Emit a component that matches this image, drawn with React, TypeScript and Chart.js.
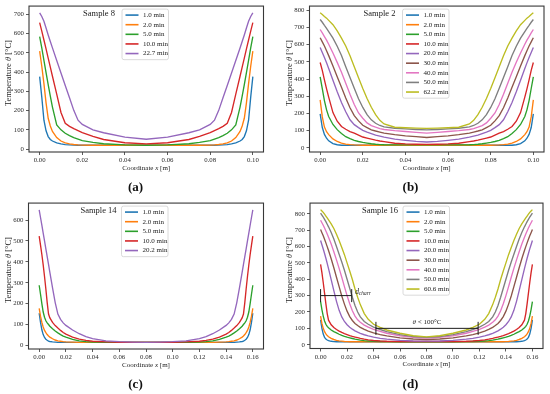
import React, { useEffect, useRef } from 'react';
import { Chart, registerables } from 'chart.js';

Chart.register(...registerables);

const FONT = "'Liberation Serif', 'Times New Roman', serif";
const COLORS = ['#1f77b4', '#ff7f0e', '#2ca02c', '#d62728', '#9467bd', '#8c564b', '#e377c2', '#7f7f7f', '#bcbd22'];

// ---------------- Panel (a): Sample 8 ----------------
const xA = [0,0.001,0.002,0.003,0.004,0.005,0.006,0.008,0.01,0.012,0.014,0.016,0.018,0.02,0.025,0.03,0.04,0.05,0.06,0.07,0.075,0.08,0.082,0.084,0.086,0.088,0.09,0.092,0.094,0.095,0.096,0.097,0.098,0.099,0.1];
const labelsA = ['1.0 min', '2.0 min', '5.0 min', '10.0 min', '22.7 min'];
const a1 = [376,270,150,95,65,50,42,32,27,23,22,21, 20,20,20,20,20,20,20,20,20,20,20, 21,22,23,27,32,42,50,65,95,150,270,376];
const a2 = [508,430,340,240,160,120,92,60,42,32,27,24,22,21, 20,20,20,20,20,20,20, 21,22,24,27,32,42,60,92,120,160,240,340,430,508];
const a5 = [584,525,460,397,335,275,218,125,100,82,70,60,52,44,35,28,22, 20, 22,28,35,44,52,60,70,82,100,125,218,275,335,397,460,525,584];
const a10 = [656,612,566,520,472,425,378,285,190,134,118,106,96,86,66,50,33, 27, 33,50,66,86,96,106,118,134,190,285,378,425,472,520,566,612,656];
const a22 = [707,688,663,628,592,558,525,460,395,330,266,201,150,128,100,85,62, 51, 62,85,100,128,150,201,266,330,395,460,525,558,592,628,663,688,707];
const xTicksA = [0, 0.02, 0.04, 0.06, 0.08, 0.1];
const yTicksA = [0, 100, 200, 300, 400, 500, 600, 700];

// ---------------- Panel (b): Sample 2 ----------------
const xB = [0,0.001,0.002,0.003,0.004,0.006,0.008,0.01,0.012,0.014,0.016,0.018,0.02,0.022,0.024,0.026,0.028,0.03,0.035,0.04,0.045,0.05,0.055,0.06,0.065,0.07,0.072,0.074,0.076,0.078,0.08,0.082,0.084,0.086,0.088,0.09,0.092,0.094,0.096,0.097,0.098,0.099,0.1];
const labelsB = ['1.0 min', '2.0 min', '5.0 min', '10.0 min', '20.0 min', '30.0 min', '40.0 min', '50.0 min', '62.2 min'];
const b1 = [198,118,78,56,41,25,18, 15,15,15,15,15,15,15,15,15,15,15,15,15,15,15,15,15,15,15,15,15,15,15,15,15,15,15,15,15, 18,25,41,56,78,118,198];
const b2 = [279,180,121,94,77,52,37,28,22,19,17,16, 15,15,15,15,15,15,15,15,15,15,15,15,15,15,15,15,15,15,15, 16,17,19,22,28,37,52,77,94,121,180,279];
const b5 = [413,345,275,221,182,136,106,84,65,54,44,37,32,28,24,21,19,18,17,17,17, 17, 17,17,17,18,19,21,24,28,32,37,44,54,65,84,106,136,182,221,275,345,413];
const b10 = [496,450,395,343,295,205,155,124,108,95,85,74,63,57,51,45,40,36,27,23,21, 20, 21,23,27,36,40,45,51,57,63,74,85,95,108,124,155,205,295,343,395,450,496];
const b20 = [583,554,525,494,461,393,326,264,210,163,135,118,102,92,83,74,68,62,51,44,38, 34, 38,44,51,62,68,74,83,92,102,118,135,163,210,264,326,393,461,494,525,554,583];
const b30 = [640,616,592,564,536,476,413,352,290,233,187,157,131,118,105,98,92,86,77,70,65, 60, 65,70,77,86,92,98,105,118,131,157,187,233,290,352,413,476,536,564,592,616,640];
const b40 = [688,668,647,626,602,551,497,440,375,311,252,203,172,145,129,120,112,107,100,95,90, 86, 90,95,100,107,112,120,129,145,172,203,252,311,375,440,497,551,602,626,647,668,688];
const b50 = [746,730,712,695,676,638,591,537,471,409,346,285,235,193,163,143,130,122,114,110,107, 105, 107,110,114,122,130,143,163,193,235,285,346,409,471,537,591,638,676,695,712,730,746];
const b62 = [785,775,764,754,741,716,680,638,592,535,472,408,345,287,236,193,160,139,120,117,115, 113, 115,117,120,139,160,193,236,287,345,408,472,535,592,638,680,716,741,754,764,775,785];
const xTicksB = [0, 0.02, 0.04, 0.06, 0.08, 0.1];
const yTicksB = [0, 100, 200, 300, 400, 500, 600, 700, 800];

// ---------------- Panel (c): Sample 14 ----------------
const xC = [0,0.001,0.002,0.003,0.004,0.005,0.006,0.007,0.008,0.01,0.012,0.014,0.016,0.018,0.02,0.025,0.03,0.035,0.04,0.05,0.06,0.07,0.08,0.09,0.1,0.11,0.12,0.125,0.13,0.135,0.14,0.142,0.144,0.146,0.148,0.15,0.152,0.153,0.154,0.155,0.156,0.157,0.158,0.159,0.16];
const labelsC = ['1.0 min', '2.0 min', '5.0 min', '10.0 min', '20.2 min'];
const c1 = [154,110,75,52,38,30,25,21,19,17,16, 15,15,15,15,15,15,15,15,15,15,15,15,15,15,15,15,15,15,15,15,15,15,15, 16,17,19,21,25,30,38,52,75,110,154];
const c2 = [177,140,110,88,72,61,52,45,40,32,26,22,20,18,17,16, 15,15,15,15,15,15,15,15,15,15,15,15,15, 16,17,18,20,22,26,32,40,45,52,61,72,88,110,140,177];
const c5 = [288,245,200,160,135,118,108,100,92,80,69,60,52,45,40,29,22,18,16,15,15,15, 15, 15,15,15,16,18,22,29,40,45,52,60,69,80,92,100,108,118,135,160,200,245,288];
const c10 = [523,480,435,385,330,270,205,150,132,110,95,83,72,62,54,40,30,24,20,17,15,15, 15, 15,15,17,20,24,30,40,54,62,72,83,95,110,132,150,205,270,330,385,435,480,523];
const c20 = [649,612,575,537,500,462,425,388,350,275,205,150,125,108,96,74,56,42,33,22,18,16, 15, 16,18,22,33,42,56,74,96,108,125,150,205,275,350,388,425,462,500,537,575,612,649];
const xTicksC = [0, 0.02, 0.04, 0.06, 0.08, 0.1, 0.12, 0.14, 0.16];
const yTicksC = [0, 100, 200, 300, 400, 500, 600];

// ---------------- Panel (d): Sample 16 ----------------
const xD = [0,0.001,0.002,0.003,0.004,0.005,0.006,0.008,0.01,0.012,0.014,0.016,0.018,0.02,0.022,0.024,0.026,0.028,0.03,0.033,0.036,0.04,0.045,0.05,0.06,0.07,0.08,0.09,0.1,0.11,0.115,0.12,0.124,0.127,0.13,0.132,0.134,0.136,0.138,0.14,0.142,0.144,0.146,0.148,0.15,0.152,0.154,0.155,0.156,0.157,0.158,0.159,0.16];
const labelsD = ['1.0 min', '2.0 min', '5.0 min', '10.0 min', '20.0 min', '30.0 min', '40.0 min', '50.0 min', '60.6 min'];
const d1 = [152,100,65,45,35,29,25,21,19, 18,18,18,18,18,18,18,18,18,18,18,18,18,18,18,18,18,18,18,18,18,18,18,18,18,18,18,18,18,18,18,18,18,18,18, 19,21,25,29,35,45,65,100,152];
const d2 = [174,130,100,80,66,56,49,39,32,27,24,22,20,19, 18,18,18,18,18,18,18,18,18,18,18,18,18,18,18,18,18,18,18,18,18,18,18,18,18, 19,20,22,24,27,32,39,49,56,66,80,100,130,174];
const d5 = [263,215,175,145,125,112,104,90,80,72,64,57,51,46,42,38,34,31,28,25,23,21,20,19,18,18, 18, 18,18,19,20,21,23,25,28,31,34,38,42,46,51,57,64,72,80,90,104,112,125,145,175,215,263];
const d10 = [491,440,380,315,250,190,150,122,105,93,83,75,68,62,56,51,47,43,39,34,30,26,23,21,20,20, 20, 20,20,21,23,26,30,34,39,43,47,51,56,62,68,75,83,93,105,122,150,190,250,315,380,440,491];
const d20 = [636,611,585,557,528,497,465,398,330,265,210,170,142,122,107,95,85,77,70,61,54,46,39,34,27,23, 22, 23,27,34,39,46,54,61,70,77,85,95,107,122,142,170,210,265,330,398,465,497,528,557,585,611,636];
const d30 = [703,684,665,644,622,599,575,525,470,412,355,298,248,205,172,148,130,117,106,94,83,72,62,54,42,35, 32, 35,42,54,62,72,83,94,106,117,130,148,172,205,248,298,355,412,470,525,575,599,622,644,665,684,703];
const d40 = [760,745,730,713,695,676,657,615,568,518,466,412,355,300,250,207,175,152,137,120,107,94,81,70,55,45, 40, 45,55,70,81,94,107,120,137,152,175,207,250,300,355,412,466,518,568,615,657,676,695,713,730,745,760];
const d50 = [804,792,780,766,752,736,720,685,645,600,553,505,455,400,345,290,240,200,170,142,125,108,93,80,62,50, 45, 50,62,80,93,108,125,142,170,200,240,290,345,400,455,505,553,600,645,685,720,736,752,766,780,792,804];
const d60 = [825,817,808,797,786,774,762,738,710,675,636,594,550,500,450,398,340,290,245,190,155,125,106,90,70,55, 48, 55,70,90,106,125,155,190,245,290,340,398,450,500,550,594,636,675,710,738,762,774,786,797,808,817,825];
const xTicksD = [0, 0.02, 0.04, 0.06, 0.08, 0.1, 0.12, 0.14, 0.16];
const yTicksD = [0, 100, 200, 300, 400, 500, 600, 700, 800];
// annotations in panel (d)
const charX = [0, 0.0235];
const charY = 300;
const dryX = [0.0418, 0.119];
const dryY = 100;

type Frame = { left: number; top: number; right: number; bottom: number };
type PanelCfg = {
  letter: string; sample: string; x: number[]; series: number[][]; labels: string[];
  xTicks: number[]; yTicks: number[]; xRange: [number, number]; yRange: [number, number];
  frame: Frame; notes?: boolean;
};

const PANELS: PanelCfg[] = [
  { letter: '(a)', sample: 'Sample 8', x: xA, series: [a1, a2, a5, a10, a22], labels: labelsA,
    xTicks: xTicksA, yTicks: yTicksA, xRange: [-0.005, 0.105], yRange: [-15, 742],
    frame: { left: 29, top: 4, right: 263.5, bottom: 152 } },
  { letter: '(b)', sample: 'Sample 2', x: xB, series: [b1, b2, b5, b10, b20, b30, b40, b50, b62], labels: labelsB,
    xTicks: xTicksB, yTicks: yTicksB, xRange: [-0.005, 0.105], yRange: [-24, 824],
    frame: { left: 34.5, top: 5, right: 269, bottom: 152 } },
  { letter: '(c)', sample: 'Sample 14', x: xC, series: [c1, c2, c5, c10, c20], labels: labelsC,
    xTicks: xTicksC, yTicks: yTicksC, xRange: [-0.008, 0.168], yRange: [-17, 681],
    frame: { left: 28.5, top: 4, right: 263.5, bottom: 152 } },
  { letter: '(d)', sample: 'Sample 16', x: xD, series: [d1, d2, d5, d10, d20, d30, d40, d50, d60], labels: labelsD,
    xTicks: xTicksD, yTicks: yTicksD, xRange: [-0.008, 0.168], yRange: [-23, 865],
    frame: { left: 35, top: 5, right: 268, bottom: 151.5 }, notes: true },
];

type Part = { t: string; it?: boolean; b?: boolean; sub?: boolean };

function drawParts(ctx: CanvasRenderingContext2D, parts: Part[], x: number, y: number, size: number, align: 'center' | 'left') {
  const fonts = parts.map(p => `${p.it ? 'italic ' : ''}${p.b ? 'bold ' : ''}${p.sub ? size * 0.72 : size}px ${FONT}`);
  let total = 0;
  const widths = parts.map((p, i) => {
    ctx.font = fonts[i];
    const w = ctx.measureText(p.t).width;
    total += w;
    return w;
  });
  let cx = align === 'center' ? x - total / 2 : x;
  ctx.textAlign = 'left';
  ctx.textBaseline = 'middle';
  parts.forEach((p, i) => {
    ctx.font = fonts[i];
    ctx.fillText(p.t, cx, y + (p.sub ? size * 0.3 : 0));
    cx += widths[i];
  });
}

function Panel({ cfg, left, top }: { cfg: PanelCfg; left: number; top: number }) {
  const ref = useRef<HTMLCanvasElement>(null);
  useEffect(() => {
    const canvas = ref.current;
    if (!canvas) return;
    const W = 275, H = 197;
    const f = cfg.frame;
    const n = cfg.series.length;
    const overlay = {
      id: 'overlay',
      afterDraw(chart: any) {
        const ctx: CanvasRenderingContext2D = chart.ctx;
        const ca = chart.chartArea;
        ctx.save();
        // axes frame
        ctx.strokeStyle = '#383838';
        ctx.lineWidth = 1.1;
        ctx.strokeRect(ca.left, ca.top, ca.right - ca.left, ca.bottom - ca.top);
        ctx.fillStyle = '#222';
        // axis titles
        drawParts(ctx, [{ t: 'Coordinate ' }, { t: 'x', it: true }, { t: ' [m]' }], (ca.left + ca.right) / 2, ca.bottom + 16, 7, 'center');
        ctx.save();
        ctx.translate(ca.left - 20, ca.top + 67);
        ctx.rotate(-Math.PI / 2);
        drawParts(ctx, [{ t: 'Temperature ' }, { t: 'θ', it: true }, { t: ' [°C]' }], 0, 0, 8.5, 'center');
        ctx.restore();
        // sample label
        drawParts(ctx, [{ t: cfg.sample }], ca.left + 70, ca.top + 7.5, 8.5, 'center');
        // panel letter
        ctx.fillStyle = '#111';
        drawParts(ctx, [{ t: cfg.letter, b: true }], 135.5, 188, 13, 'center');
        // legend
        const bx = ca.left + 93, by = ca.top + 3, bw = 46.5, rowH = 9.62, bh = n * rowH + 2.5;
        ctx.beginPath();
        const r = 2;
        ctx.moveTo(bx + r, by);
        ctx.lineTo(bx + bw - r, by);
        ctx.quadraticCurveTo(bx + bw, by, bx + bw, by + r);
        ctx.lineTo(bx + bw, by + bh - r);
        ctx.quadraticCurveTo(bx + bw, by + bh, bx + bw - r, by + bh);
        ctx.lineTo(bx + r, by + bh);
        ctx.quadraticCurveTo(bx, by + bh, bx, by + bh - r);
        ctx.lineTo(bx, by + r);
        ctx.quadraticCurveTo(bx, by, bx + r, by);
        ctx.closePath();
        ctx.fillStyle = 'rgba(255,255,255,0.85)';
        ctx.fill();
        ctx.strokeStyle = '#d0d0d0';
        ctx.lineWidth = 0.8;
        ctx.stroke();
        cfg.labels.forEach((lab, i) => {
          const yy = by + 6 + i * rowH;
          ctx.strokeStyle = COLORS[i];
          ctx.lineWidth = 1.6;
          ctx.beginPath();
          ctx.moveTo(bx + 3.5, yy);
          ctx.lineTo(bx + 16.5, yy);
          ctx.stroke();
          ctx.fillStyle = '#222';
          drawParts(ctx, [{ t: lab }], bx + 21, yy, 7, 'left');
        });
        // annotations
        if (cfg.notes) {
          const sx = chart.scales.x, sy = chart.scales.y;
          ctx.strokeStyle = '#1a1a1a';
          ctx.lineWidth = 1;
          const bar = (xs: number[], yv: number) => {
            const x0 = sx.getPixelForValue(xs[0]);
            const x1 = sx.getPixelForValue(xs[1]);
            const yp = sy.getPixelForValue(yv);
            ctx.beginPath();
            ctx.moveTo(x0, yp); ctx.lineTo(x1, yp);
            ctx.moveTo(x0, yp - 6.5); ctx.lineTo(x0, yp + 6.5);
            ctx.moveTo(x1, yp - 6.5); ctx.lineTo(x1, yp + 6.5);
            ctx.stroke();
            return { x0, x1, yp };
          };
          const c = bar(charX, charY);
          ctx.fillStyle = '#222';
          drawParts(ctx, [{ t: 'd', it: true }, { t: 'charr', it: true, sub: true }], c.x1 + 3.5, c.yp - 4, 7.5, 'left');
          const d = bar(dryX, dryY);
          drawParts(ctx, [{ t: 'θ', it: true }, { t: ' < 100°C' }], (d.x0 + d.x1) / 2, d.yp - 6, 7, 'center');
        }
        ctx.restore();
      },
    };

    const tickFont = { family: FONT, size: 6.8 };
    const chart = new Chart(canvas, {
      type: 'line',
      data: {
        datasets: cfg.series.map((s, i) => ({
          label: cfg.labels[i],
          data: cfg.x.map((xv, j) => ({ x: xv, y: s[j] })),
          borderColor: COLORS[i],
          backgroundColor: COLORS[i],
          borderWidth: 1.35,
          pointRadius: 0,
          fill: false,
          tension: 0,
          order: n - i,
        })),
      },
      options: {
        animation: false,
        responsive: false,
        maintainAspectRatio: false,
        events: [],
        layout: { padding: { left: 0, top: f.top, right: W - f.right, bottom: 0 } },
        scales: {
          x: {
            type: 'linear',
            min: cfg.xRange[0],
            max: cfg.xRange[1],
            afterBuildTicks: (axis: any) => { axis.ticks = cfg.xTicks.map(v => ({ value: v })); },
            afterFit: (scale: any) => { scale.height = H - f.bottom; },
            ticks: {
              font: tickFont, color: '#2a2a2a', padding: 1.5, maxRotation: 0, autoSkip: false,
              callback: (v: any) => Number(v).toFixed(2),
            },
            grid: { display: true, drawOnChartArea: false, drawTicks: true, tickLength: 3, color: '#333', lineWidth: 0.8 },
            border: { display: false },
          },
          y: {
            type: 'linear',
            min: cfg.yRange[0],
            max: cfg.yRange[1],
            afterBuildTicks: (axis: any) => { axis.ticks = cfg.yTicks.map(v => ({ value: v })); },
            afterFit: (scale: any) => { scale.width = f.left; },
            ticks: {
              font: tickFont, color: '#2a2a2a', padding: 2, autoSkip: false,
              callback: (v: any) => String(Math.round(Number(v))),
            },
            grid: { display: true, drawOnChartArea: false, drawTicks: true, tickLength: 3, color: '#333', lineWidth: 0.8 },
            border: { display: false },
          },
        },
        plugins: { legend: { display: false }, tooltip: { enabled: false }, title: { display: false } },
      },
      plugins: [overlay],
    } as any);
    return () => chart.destroy();
  }, [cfg]);
  return (
    <canvas
      ref={ref}
      width={275}
      height={197}
      style={{ position: 'absolute', left, top, width: 275, height: 197, display: 'block' }}
    />
  );
}

export default function App() {
  return (
    <div style={{ position: 'fixed', left: 0, top: 0, width: 550, height: 394, background: '#fff', overflow: 'hidden' }}>
      {PANELS.map((p, i) => (
        <Panel key={i} cfg={p} left={(i % 2) * 275} top={Math.floor(i / 2) * 197} />
      ))}
    </div>
  );
}
